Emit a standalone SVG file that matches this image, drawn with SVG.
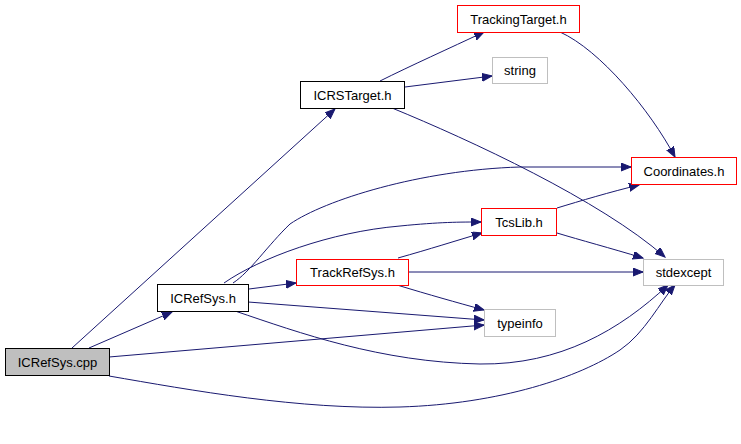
<svg xmlns="http://www.w3.org/2000/svg" width="741" height="444" viewBox="0 0 741 444">
<style>
.bg{fill:#ffffff}
.node rect{fill:#ffffff;stroke-width:1}
.blk rect{stroke:#000000}
.red rect{stroke:#ff0000}
.gry rect{stroke:#bfbfbf}
.cur rect{fill:#bfbfbf;stroke:#000000}
.node text{font-family:"Liberation Sans",Arial,Helvetica,sans-serif;font-size:13px;fill:#000000;text-anchor:middle}
.edges path{fill:none;stroke:#191970;stroke-width:1;marker-end:url(#ah)}
</style>
<defs>
<marker id="ah" markerUnits="userSpaceOnUse" markerWidth="12" markerHeight="10" refX="10" refY="4" orient="auto" viewBox="0 0 12 10">
<path d="M0,0 L10,4 L0,8 z" fill="#191970" stroke="#191970" stroke-width="1"/>
</marker>
</defs>
<rect class="bg" x="0" y="0" width="741" height="444"/>
<g id="edges" class="edges">
<path d="M89,348 L172,312"/>
<path d="M72,348 L335,109"/>
<path d="M109,357 L484,325"/>
<path d="M109,376 C190,390 300,410 400,407 C500,404 580,377 620,350 C645,333 660,302 675,285"/>
<path d="M249,289 L296,283"/>
<path d="M224,283 C260,258 330,232 400,226 C440,222 460,222 481,222"/>
<path d="M233,283 C250,272 268,245 290,224 C325,200 420,170 520,167 L631,167"/>
<path d="M248,302 L484,320"/>
<path d="M235,311 C300,333 380,362 480,364 C560,365 620,330 668,285"/>
<path d="M398,258 C430,249 455,241 482,233"/>
<path d="M408,272 L643,272"/>
<path d="M397,285 C430,295 455,302 484,310"/>
<path d="M380,81 C410,66 450,48 484,32"/>
<path d="M405,87 L492,76"/>
<path d="M392,108 C470,140 600,200 665,257"/>
<path d="M560,32 C600,50 650,110 675,157"/>
<path d="M557,208 C580,201 610,192 639,185"/>
<path d="M557,233 C580,240 610,248 643,258"/>
</g>
<g id="node-ICRefSys-cpp" class="node cur"><rect x="5.5" y="348.5" width="104" height="27"/><text x="57.5" y="366.5">ICRefSys.cpp</text></g>
<g id="node-ICRefSys-h" class="node blk"><rect x="157.5" y="284.5" width="91" height="27"/><text x="203" y="302.5">ICRefSys.h</text></g>
<g id="node-TrackRefSys-h" class="node red"><rect x="296.5" y="259.5" width="112" height="26"/><text x="352.5" y="277">TrackRefSys.h</text></g>
<g id="node-ICRSTarget-h" class="node blk"><rect x="300.5" y="81.5" width="104" height="27"/><text x="352.5" y="99.5">ICRSTarget.h</text></g>
<g id="node-TrackingTarget-h" class="node red"><rect x="457.5" y="5.5" width="122" height="27"/><text x="518.5" y="23.5">TrackingTarget.h</text></g>
<g id="node-string" class="node gry"><rect x="492.5" y="57.5" width="55" height="26"/><text x="520" y="75">string</text></g>
<g id="node-Coordinates-h" class="node red"><rect x="631.5" y="157.5" width="105" height="27"/><text x="684" y="175.5">Coordinates.h</text></g>
<g id="node-TcsLib-h" class="node red"><rect x="481.5" y="208.5" width="75" height="27"/><text x="519" y="226.5">TcsLib.h</text></g>
<g id="node-stdexcept" class="node gry"><rect x="643.5" y="259.5" width="80" height="26"/><text x="683.5" y="277">stdexcept</text></g>
<g id="node-typeinfo" class="node gry"><rect x="484.5" y="309.5" width="71" height="27"/><text x="520" y="327.5">typeinfo</text></g>
</svg>
